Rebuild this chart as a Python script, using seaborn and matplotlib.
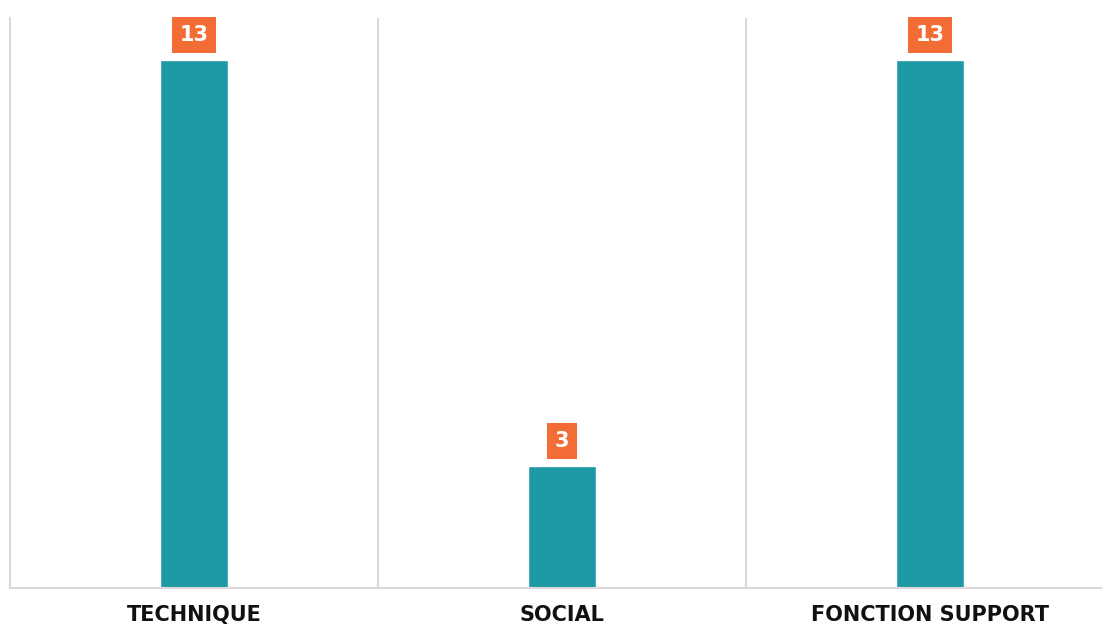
import matplotlib
matplotlib.use("Agg")
import matplotlib.pyplot as plt
import seaborn as sns
import pandas as pd

categories = ["TECHNIQUE", "SOCIAL", "FONCTION SUPPORT"]
values = [13, 3, 13]

sns.set_theme(style="white")
plt.rcParams['font.family'] = ['DejaVu Sans']

df = pd.DataFrame({"cat": categories, "val": values})

fig = plt.figure(figsize=(11.02, 6.25), dpi=100)
ax = fig.add_axes([10/1102, (625-588)/625, 1104/1102, (588-18)/625])

sns.barplot(data=df, x="cat", y="val", color="#1f98a5", saturation=1, width=0.185, ax=ax)

ax.set_ylim(0, 14.04)
ax.set_xlim(-0.5, 2.5)
for xb in [0.5, 1.5]:
    ax.axvline(xb, color="#d9d9d9", lw=1.5, zorder=0)

for s in ["top", "right"]:
    ax.spines[s].set_visible(False)
for s in ["left", "bottom"]:
    ax.spines[s].set_color("#d9d9d9")
    ax.spines[s].set_linewidth(1.5)

ax.set_xlabel("")
ax.set_ylabel("")
ax.set_yticks([])
ax.tick_params(axis="x", length=0, pad=12)
for lab in ax.get_xticklabels():
    lab.set_fontsize(15)
    lab.set_fontweight("bold")
    lab.set_color("#111111")

for cont in ax.containers:
    ax.bar_label(cont, labels=[str(v) for v in values], padding=11,
                 color="white", fontsize=15, fontweight="bold",
                 bbox=dict(boxstyle="square,pad=0.38", fc="#f26d35", ec="none"))

fig.savefig("out.png", dpi=100)
